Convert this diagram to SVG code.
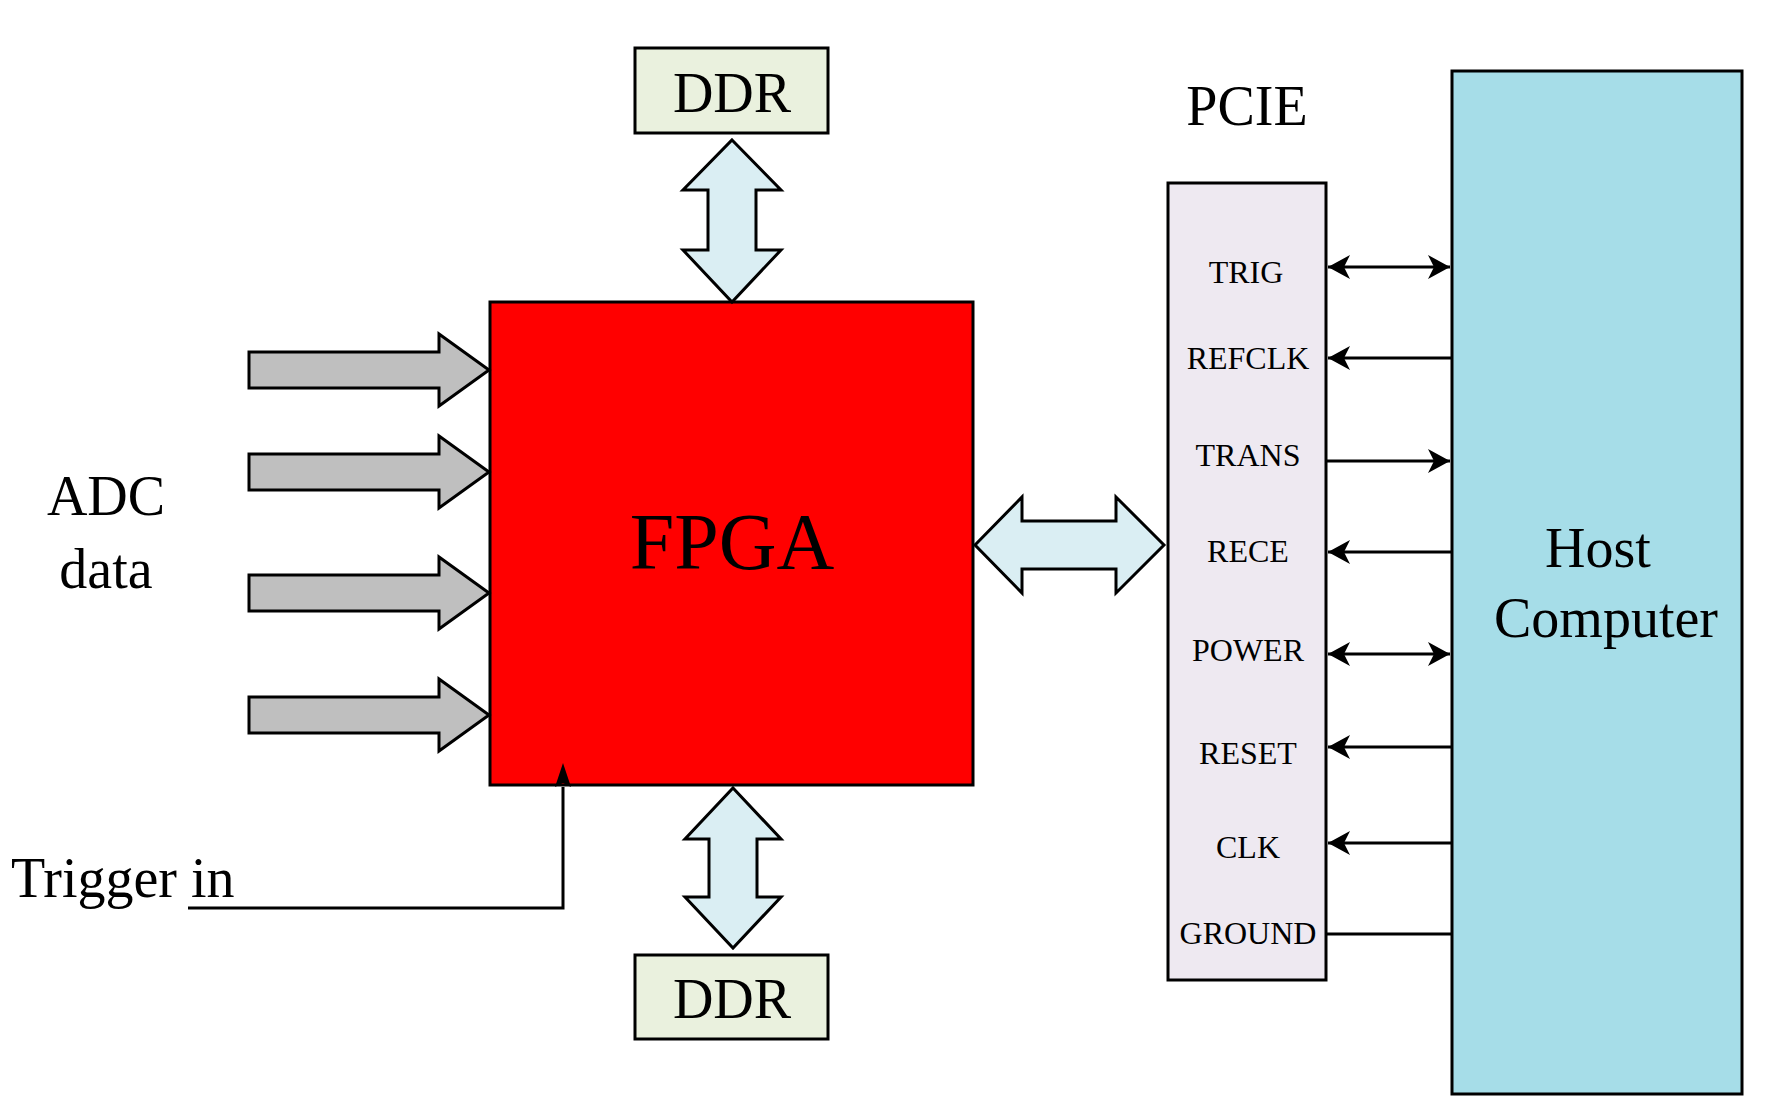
<svg xmlns="http://www.w3.org/2000/svg" width="1775" height="1117" viewBox="0 0 1775 1117">
<style>
text{font-family:"Liberation Serif","Times New Roman",serif;fill:#000}
.b{stroke:#000;stroke-width:3}
.sig{font-size:32px;text-anchor:middle}
.ln{stroke:#000;stroke-width:3;fill:none}
</style>
<defs>
<marker id="ah" markerWidth="24" markerHeight="24" refX="22" refY="12" orient="auto-start-reverse" markerUnits="userSpaceOnUse"><path d="M0,0 L22,12 L0,24 L6,12 Z" fill="#000"/></marker>
<marker id="ta" markerWidth="16" markerHeight="24" refX="8" refY="24" orient="0" markerUnits="userSpaceOnUse"><path d="M0,24 L8,0 L16,24 L8,20 Z" fill="#000"/></marker>
</defs>
<rect width="1775" height="1117" fill="#fff"/>
<g id="ddr-top"><rect x="635" y="48" width="193" height="85" fill="#EAF1DE" class="b"/><text x="732" y="112" font-size="56" text-anchor="middle">DDR</text></g>
<g id="ddr-bottom"><rect x="635" y="955" width="193" height="84" fill="#EAF1DE" class="b"/><text x="732" y="1018" font-size="56" text-anchor="middle">DDR</text></g>
<g id="fpga"><rect x="490" y="302" width="483" height="483" fill="#FF0000" class="b"/><text x="732" y="569" font-size="80" text-anchor="middle">FPGA</text></g>
<g id="pcie"><text x="1247" y="125" font-size="56" text-anchor="middle">PCIE</text><rect x="1168" y="183" width="158" height="797" fill="#EEE9F1" class="b"/>
<text class="sig" x="1246" y="283">TRIG</text><text class="sig" x="1248" y="369">REFCLK</text><text class="sig" x="1248" y="466">TRANS</text><text class="sig" x="1248" y="562">RECE</text><text class="sig" x="1248" y="661">POWER</text><text class="sig" x="1248" y="764">RESET</text><text class="sig" x="1248" y="858">CLK</text><text class="sig" x="1248" y="944">GROUND</text></g>
<g id="host"><rect x="1452" y="71" width="290" height="1023" fill="#A6DDE8" class="b"/><text x="1598" y="567" font-size="56" text-anchor="middle">Host</text><text x="1606" y="637" font-size="56" text-anchor="middle">Computer</text></g>
<g id="adc"><text x="106" y="515" font-size="56" text-anchor="middle">ADC</text><text x="106" y="588" font-size="56" text-anchor="middle">data</text></g>
<g id="trigger"><text x="11" y="897" font-size="56">Trigger in</text></g>
<g id="connectors">
<g fill="#BFBFBF" class="b">
<path d="M249,352 H439 V334 L489,370 L439,406 V388 H249 Z"/>
<path d="M249,454 H439 V436 L489,472 L439,508 V490 H249 Z"/>
<path d="M249,575 H439 V557 L489,593 L439,629 V611 H249 Z"/>
<path d="M249,697 H439 V679 L489,715 L439,751 V733 H249 Z"/>
</g>
<g fill="#DAEEF3" class="b">
<path d="M732,140 L781,190 H756 V250 H781 L732,302 L683,250 H708 V190 H683 Z"/>
<path d="M733,788 L781,839 H757 V897 H781 L733,948 L685,897 H709 V839 H685 Z"/>
<path d="M975,545 L1022,497 V521 H1116 V497 L1164,545 L1116,593 V569 H1022 V593 Z"/>
</g>
<path class="ln" d="M188,908 H563 V787" marker-end="url(#ta)"/>
<line class="ln" x1="1328" y1="267" x2="1450" y2="267" marker-start="url(#ah)" marker-end="url(#ah)"/>
<line class="ln" x1="1452" y1="358" x2="1328" y2="358" marker-end="url(#ah)"/>
<line class="ln" x1="1326" y1="461" x2="1450" y2="461" marker-end="url(#ah)"/>
<line class="ln" x1="1452" y1="552" x2="1328" y2="552" marker-end="url(#ah)"/>
<line class="ln" x1="1328" y1="654" x2="1450" y2="654" marker-start="url(#ah)" marker-end="url(#ah)"/>
<line class="ln" x1="1452" y1="747" x2="1328" y2="747" marker-end="url(#ah)"/>
<line class="ln" x1="1452" y1="843" x2="1328" y2="843" marker-end="url(#ah)"/>
<line class="ln" x1="1326" y1="934" x2="1452" y2="934"/>
</g>
</svg>
